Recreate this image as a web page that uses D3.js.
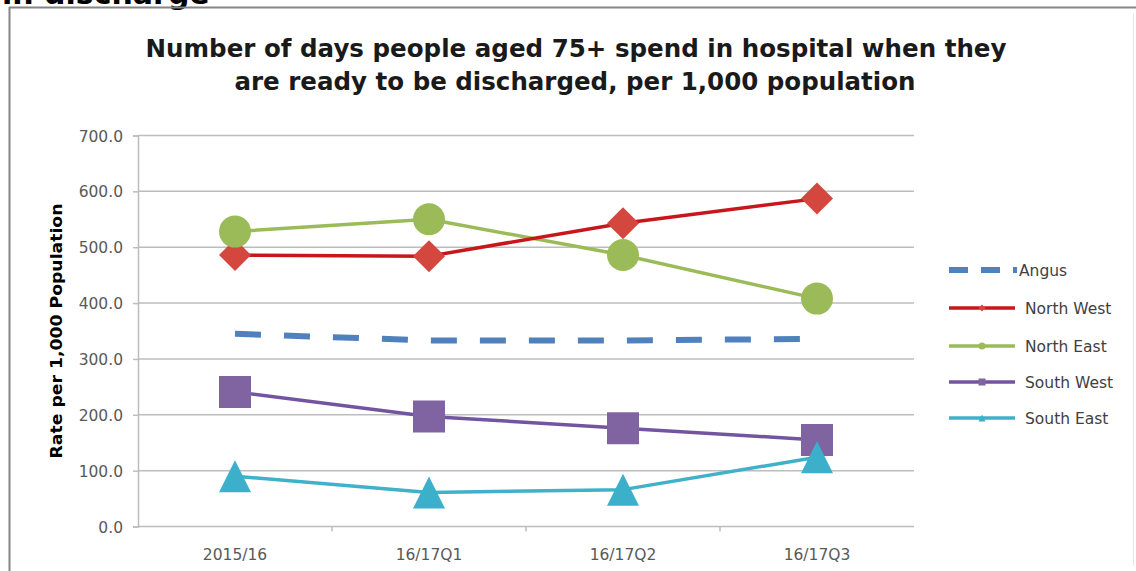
<!DOCTYPE html>
<html>
<head>
<meta charset="utf-8">
<script src="https://cdn.jsdelivr.net/npm/d3@7"></script>
<style>
  html, body { margin: 0; padding: 0; background: #fff; }
  svg { display: block; }
  text { font-family: "DejaVu Sans", sans-serif; }
</style>
</head>
<body>
<svg id="chart" width="1136" height="571"></svg>
<script>
// Quarterly periods on the x axis
const categories = ["2015/16", "16/17Q1", "16/17Q2", "16/17Q3"];

// Rate per 1,000 population, one array per area
const angus     = [345, 333, 333, 336];
const northWest = [486, 484, 543, 587];
const northEast = [528, 550, 486, 408];
const southWest = [241, 197, 176, 155];
const southEast = [90, 61, 66, 124];

const yTicks = [0, 100, 200, 300, 400, 500, 600, 700];

const titleLines = [
  "Number of days people aged 75+ spend in hospital when they",
  "are ready to be discharged, per 1,000 population"
];
const yTitle = "Rate per 1,000 Population";

const series = [
  { name: "Angus",      values: angus,     line: "#4f81bd", fill: "#4f81bd", marker: "none",     dashed: true },
  { name: "North West", values: northWest, line: "#c8161d", fill: "#d4473f", marker: "diamond" },
  { name: "North East", values: northEast, line: "#9bbb59", fill: "#9bbb59", marker: "circle" },
  { name: "South West", values: southWest, line: "#7354a0", fill: "#8064a2", marker: "square" },
  { name: "South East", values: southEast, line: "#3fb1c9", fill: "#3cb0ca", marker: "triangle" }
];

const svg = d3.select("#chart");

// page heading above the chart frame (runs off the top of the page)
svg.append("text")
  .attr("x", 2).attr("y", 4)
  .attr("font-family", "Liberation Sans, Arial, sans-serif")
  .attr("font-weight", "bold")
  .attr("font-size", 30)
  .attr("fill", "#000")
  .text("in discharge");

// chart frame
svg.append("line").attr("x1", 9).attr("x2", 1136).attr("y1", 7.5).attr("y2", 7.5)
  .attr("stroke", "#858585").attr("stroke-width", 2);
svg.append("line").attr("x1", 9.5).attr("x2", 9.5).attr("y1", 7).attr("y2", 571)
  .attr("stroke", "#858585").attr("stroke-width", 2);
svg.append("line").attr("x1", 1133.5).attr("x2", 1133.5).attr("y1", 14).attr("y2", 566)
  .attr("stroke", "#e6e6e6").attr("stroke-width", 1);

// title
const titleG = svg.append("g").attr("font-weight", "bold").attr("font-size", 25).attr("fill", "#1a1a1a");
titleG.append("text").attr("x", 576).attr("y", 57).attr("text-anchor", "middle")
  .attr("textLength", 861).attr("lengthAdjust", "spacingAndGlyphs").text(titleLines[0]);
titleG.append("text").attr("x", 575).attr("y", 90).attr("text-anchor", "middle")
  .attr("textLength", 681).attr("lengthAdjust", "spacingAndGlyphs").text(titleLines[1]);

// plot area
const plot = { left: 138, right: 914, top: 135.5, bottom: 526.5 };

const x = d3.scaleBand().domain(categories).range([plot.left, plot.right]);
const xc = c => x(c) + x.bandwidth() / 2;
const y = d3.scaleLinear().domain([0, 700]).range([plot.bottom, plot.top]);

// gridlines
svg.append("g").selectAll("line").data(yTicks.filter(t => t > 0)).join("line")
  .attr("x1", plot.left).attr("x2", plot.right)
  .attr("y1", d => y(d)).attr("y2", d => y(d))
  .attr("stroke", "#bdbdbd").attr("stroke-width", 1.5);

// y axis
const yAxis = svg.append("g").attr("transform", `translate(${plot.left},0)`)
  .call(d3.axisLeft(y).tickValues(yTicks).tickFormat(d3.format(".1f")).tickSize(5).tickPadding(10));
yAxis.select(".domain").attr("stroke", "#bdbdbd").attr("stroke-width", 1.5);
yAxis.selectAll(".tick line").attr("stroke", "#bdbdbd").attr("stroke-width", 1.5);
yAxis.selectAll(".tick text").attr("font-size", 15.5).attr("fill", "#595959")
  .attr("font-family", "DejaVu Sans, sans-serif").attr("dy", "0.36em");

// x axis with ticks between categories
const xAxisG = svg.append("g").attr("transform", `translate(0,${plot.bottom})`);
xAxisG.append("line").attr("x1", plot.left).attr("x2", plot.right)
  .attr("stroke", "#bdbdbd").attr("stroke-width", 1.5);
xAxisG.selectAll(".sep").data(categories.slice(1)).join("line").attr("class", "sep")
  .attr("x1", d => x(d)).attr("x2", d => x(d)).attr("y1", 0).attr("y2", 5)
  .attr("stroke", "#bdbdbd").attr("stroke-width", 1.5);
xAxisG.selectAll(".lbl").data(categories).join("text").attr("class", "lbl")
  .attr("x", d => xc(d)).attr("y", 33).attr("text-anchor", "middle")
  .attr("font-size", 15.5).attr("fill", "#595959").text(d => d);

// y axis title
svg.append("text")
  .attr("transform", `translate(62,331) rotate(-90)`)
  .attr("text-anchor", "middle").attr("font-weight", "bold").attr("font-size", 15)
  .attr("textLength", 255).attr("lengthAdjust", "spacingAndGlyphs")
  .attr("fill", "#000").text(yTitle);

// marker shapes, s = full size
function markerPath(type, s) {
  const h = s / 2;
  switch (type) {
    case "diamond":  return `M0,${-h}L${h},0L0,${h}L${-h},0Z`;
    case "square":   return `M${-h},${-h}H${h}V${h}H${-h}Z`;
    case "triangle": return `M0,${-h}L${h},${h}L${-h},${h}Z`;
    case "circle":   return `M${-h},0A${h},${h} 0 1,0 ${h},0A${h},${h} 0 1,0 ${-h},0Z`;
    default: return "";
  }
}

const line = d3.line().x((d, i) => xc(categories[i])).y(d => y(d));

// series lines (later series underneath), then the markers on top
const linesG = svg.append("g");
series.slice().reverse().forEach(s => {
  linesG.append("path").datum(s.values)
    .attr("d", line)
    .attr("fill", "none")
    .attr("stroke", s.line)
    .attr("stroke-width", s.dashed ? 6 : 3.5)
    .attr("stroke-dasharray", s.dashed ? "26,23" : null)
    .attr("stroke-linejoin", "round");
});
const markersG = svg.append("g");
series.filter(s => s.marker !== "none").forEach(s => {
  markersG.append("g").selectAll("path").data(s.values).join("path")
    .attr("transform", (d, i) => `translate(${xc(categories[i])},${y(d)})`)
    .attr("d", markerPath(s.marker, 32))
    .attr("fill", s.fill);
});

// legend
const legendY = [270, 308, 346, 382, 418];
const legend = svg.append("g");
series.forEach((s, i) => {
  const g = legend.append("g").attr("transform", `translate(0,${legendY[i]})`);
  if (s.dashed) {
    g.append("line").attr("x1", 949).attr("x2", 1017).attr("y1", 0).attr("y2", 0)
      .attr("stroke", s.line).attr("stroke-width", 6).attr("stroke-dasharray", "19,13");
    g.append("text").attr("x", 1019).attr("y", 0).attr("dy", "0.36em")
      .attr("font-size", 15.5).attr("fill", "#404040").text(s.name);
  } else {
    g.append("line").attr("x1", 949).attr("x2", 1015).attr("y1", 0).attr("y2", 0)
      .attr("stroke", s.line).attr("stroke-width", 3.5);
    g.append("path").attr("transform", "translate(982,0)")
      .attr("d", markerPath(s.marker, 7)).attr("fill", s.fill);
    g.append("text").attr("x", 1025).attr("y", 0).attr("dy", "0.36em")
      .attr("font-size", 15.5).attr("fill", "#404040").text(s.name);
  }
});
</script>
</body>
</html>
